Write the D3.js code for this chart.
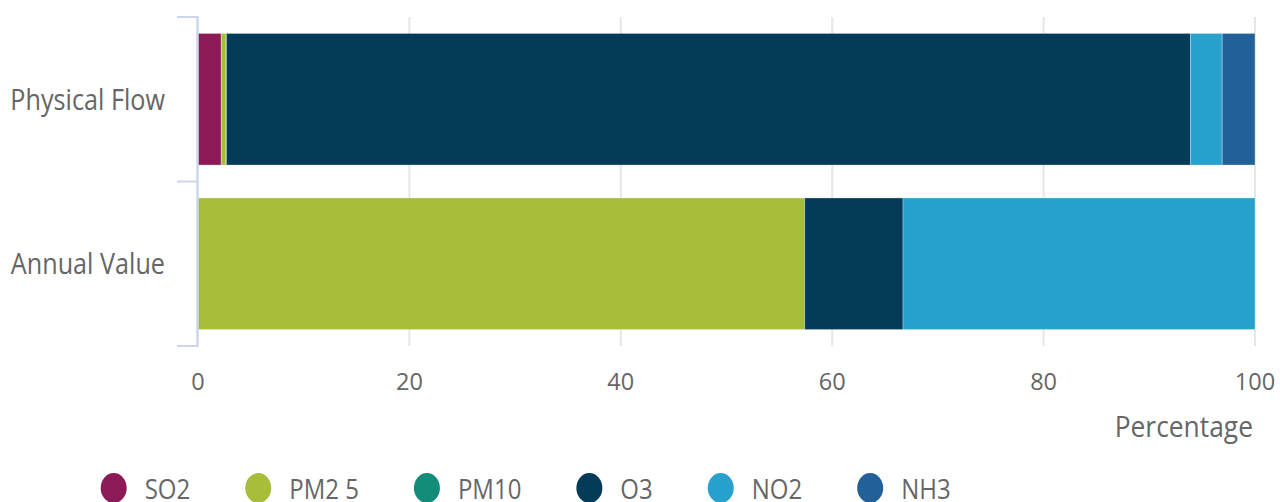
<!DOCTYPE html>
<html lang="en">
<head>
    <meta charset="UTF-8">
    <title>Percentage bars</title>
    <script src="https://d3js.org/d3.v7.min.js"></script>
    <style>
        body{ margin:0; background:#fff; }
        text{ font-family:"Open Sans", sans-serif; fill:#666666; }
    </style>
</head>
<body>
<svg width="1280" height="502"></svg>
<script>
    // data
    const categories = ["Physical Flow", "Annual Value"];
    const pollutants = ["SO2", "PM2 5", "PM10", "O3", "NO2", "NH3"];
    const colours = ["#8b1a57", "#a8bd3a", "#138c79", "#033b58", "#28a1cc", "#216197"];
    const physicalFlow = [2.2, 0.45, 0.05, 91.2, 3.0, 3.1];
    const annualValue = [0, 57.4, 0, 9.3, 33.3, 0];
    const xTicks = [0, 20, 40, 60, 80, 100];

    const svg = d3.select("svg");
    const plotLeft = 198, plotRight = 1255, plotTop = 17, plotBottom = 346;
    const stretch = 1.12; // text in the picture is a little taller than wide

    const rows = categories.map((c, i) => {
        let r = {cat: c};
        pollutants.forEach((p, j) => r[p] = [physicalFlow, annualValue][i][j]);
        return r;
    });
    const series = d3.stack().keys(pollutants)(rows);

    const x = d3.scaleLinear().domain([0, 100]).range([plotLeft, plotRight]);
    const band = d3.scaleBand().domain(categories).range([plotTop, plotBottom]);
    const colour = d3.scaleOrdinal().domain(pollutants).range(colours);

    // grid
    svg.append("g").selectAll("line")
        .data(xTicks.slice(1))
        .join("line")
        .attr("x1", d => x(d)).attr("x2", d => x(d))
        .attr("y1", plotTop).attr("y2", plotBottom)
        .attr("stroke", "#e6e6e6").attr("stroke-width", 2);

    // bars
    svg.append("g").selectAll("g")
        .data(series)
        .join("g")
        .attr("fill", d => colour(d.key))
        .selectAll("rect")
        .data(d => d.filter(s => s[1] - s[0] > 0))
        .join("rect")
        .attr("x", d => x(d[0]))
        .attr("width", d => x(d[1]) - x(d[0]))
        .attr("y", d => band(d.data.cat) + band.bandwidth() * 0.1)
        .attr("height", band.bandwidth() * 0.8)
        .attr("stroke", "#ffffff").attr("stroke-opacity", 0.3).attr("stroke-width", 1);

    // category axis
    const yAxis = svg.append("g");
    yAxis.append("line")
        .attr("x1", plotLeft - 0.5).attr("x2", plotLeft - 0.5)
        .attr("y1", plotTop - 1).attr("y2", plotBottom + 1)
        .attr("stroke", "#ccd6eb").attr("stroke-width", 2.5);
    yAxis.selectAll("line.tick")
        .data([plotTop].concat(categories.map(c => band(c) + band.bandwidth())))
        .join("line")
        .attr("class", "tick")
        .attr("x1", plotLeft - 21).attr("x2", plotLeft)
        .attr("y1", d => d).attr("y2", d => d)
        .attr("stroke", "#ccd6eb").attr("stroke-width", 2);

    function stretchedText(g, tx, ty, s, size, anchor, sy) {
        return g.append("text")
            .attr("transform", `translate(${tx},${ty}) scale(1,${sy})`)
            .attr("text-anchor", anchor)
            .style("font-size", size + "px")
            .text(s);
    }

    categories.forEach(c => {
        stretchedText(yAxis, 165, band(c) + band.bandwidth() / 2 + 10.5, c, 25.2, "end", stretch);
    });

    // value axis labels
    const xAxis = svg.append("g");
    xTicks.forEach(t => {
        stretchedText(xAxis, x(t), 390, t, 23.5, "middle", 1.02);
    });
    stretchedText(xAxis, 1253, 437, "Percentage", 26.4, "end", stretch);

    // legend
    const legend = svg.append("g");
    let lx = 100.7;
    pollutants.forEach((p, i) => {
        legend.append("ellipse")
            .attr("cx", lx + 13).attr("cy", 488)
            .attr("rx", 13).attr("ry", 13 * 1.15)
            .attr("fill", colour(p));
        const t = stretchedText(legend, lx + 44, 499, p, 24, "start", 1.12);
        lx += 44 + t.node().getComputedTextLength() + 55;
    });
</script>
</body>
</html>
